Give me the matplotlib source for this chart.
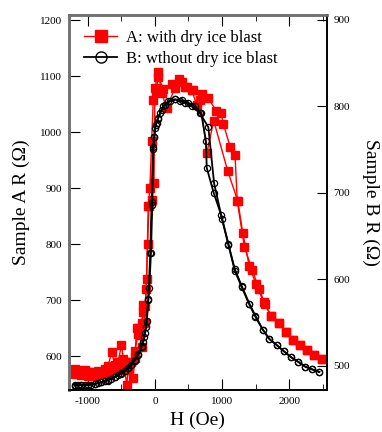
import matplotlib
matplotlib.use("Agg")
import matplotlib.pyplot as plt
from matplotlib.ticker import MultipleLocator

plt.rcParams['font.family'] = ['Liberation Serif', 'DejaVu Serif']
plt.rcParams['axes.unicode_minus'] = False

# sample A, field sweeping up then down (left axis)
h_a_up = [-1200, -1150, -1100, -1050, -1000, -950, -900, -850, -800, -750, -700, -645, -600, -550,
          -500, -470, -422, -400, -350, -325, -300, -273, -250, -225, -200, -175, -150, -125, -100,
          -75, -50, -25, 15, 50, 125, 250, 365, 450, 550, 620, 672, 776, 876, 1085, 1234, 1309,
          1407, 1507, 1622, 1731, 1855, 1955, 2055, 2168, 2268, 2378, 2488]
r_a_up = [577, 575, 574, 576, 573, 572, 570, 574, 571, 578, 583, 608, 585, 590,
          620, 596, 549, 575, 590, 561, 598, 651, 650, 638, 617, 692, 660, 739, 868,
          900, 985, 1058, 1072, 1098, 1078, 1087, 1095, 1081, 1076, 1049, 1058, 964, 1021, 931, 878, 821,
          761, 729, 697, 673, 659, 643, 630, 621, 611, 603, 596]
h_a_down = [2488, 2378, 2268, 2168, 2055, 1955, 1855, 1731, 1640, 1557, 1448, 1333, 1228, 1194,
            1124, 1020, 985, 910, 796, 697, 572, 473, 400, 300, 175, 100, 50, 0, -15, -50, -90,
            -110, -130, -150, -175, -200, -250, -300, -350, -400, -450, -500, -600, -700, -800,
            -900, -1000, -1100, -1200]
r_a_down = [596, 603, 611, 621, 630, 643, 659, 673, 693, 720, 755, 796, 877, 959,
            973, 1015, 1034, 1039, 1061, 1068, 1076, 1081, 1090, 1080, 1043, 1070, 1108, 1080, 910, 880, 868,
            800, 720, 690, 680, 660, 640, 610, 590, 585, 580, 576, 578, 572, 568,
            566, 566, 567, 568]

# sample B (right axis)
h_b_up = [-1200, -1150, -1100, -1050, -1000, -950, -900, -850, -800, -750, -700, -650, -600, -550,
          -500, -450, -400, -350, -300, -250, -200, -175, -150, -125, -100, -85, -60, -40, -25, -10,
          0, 25, 50, 100, 150, 225, 300, 375, 450, 550, 672, 796, 882, 1000, 1095, 1190, 1295, 1407,
          1497, 1607, 1707, 1817, 1921, 2030, 2130, 2243, 2343, 2452]
r_b_up = [478, 478, 478, 478, 478, 478, 479, 480, 481, 482, 483, 485, 487, 489,
          491, 494, 497, 501, 506, 513, 522, 528, 538, 552, 576, 590, 630, 686, 753, 765,
          775, 781, 787, 796, 802, 806, 808, 806, 804, 800, 792, 776, 711, 670, 640, 612, 592, 572,
          558, 542, 531, 524, 517, 510, 505, 499, 496, 493]
h_b_down = [2452, 2343, 2243, 2130, 2030, 1921, 1817, 1707, 1607, 1497, 1407, 1295, 1190, 1095,
            985, 876, 772, 760, 690, 600, 500, 400, 300, 200, 125, 75, 40, 10, -10, -30, -50, -70,
            -100, -130, -160, -200, -250, -300, -400, -500, -600, -700, -800, -900, -1000, -1100,
            -1150, -1200]
r_b_down = [493, 496, 499, 505, 510, 517, 524, 531, 542, 557, 571, 591, 610, 641,
            675, 700, 729, 760, 792, 800, 804, 807, 808, 806, 800, 792, 785, 778, 765, 751, 690, 630,
            577, 545, 533, 523, 514, 507, 498, 492, 487, 484, 481, 479, 478, 478,
            477, 477]

fig = plt.figure(figsize=(3.82, 4.32), dpi=100)
ax = fig.add_axes([0.181, 0.097, 0.674, 0.869])
ax2 = ax.twinx()

ax.plot(h_a_up, r_a_up, color="red", lw=1.0, marker="s", ms=5.2, mec="red", mfc="red",
        label="A: with dry ice blast")
ax.plot(h_a_down, r_a_down, color="red", lw=1.0, marker="s", ms=5.2, mec="red", mfc="red")
ax2.plot(h_b_up, r_b_up, color="black", lw=1.3, marker="o", ms=4.5, mec="black", mfc="none",
         mew=0.9)
ax2.plot(h_b_down, r_b_down, color="black", lw=1.3, marker="o", ms=4.5, mec="black", mfc="none",
         mew=0.9)

ax.set_xlim(-1280, 2560)
ax.set_ylim(540, 1210)
ax2.set_ylim(472, 906)

ax.xaxis.set_major_locator(MultipleLocator(1000))
ax.xaxis.set_minor_locator(MultipleLocator(500))
ax.yaxis.set_major_locator(MultipleLocator(100))
ax2.yaxis.set_major_locator(MultipleLocator(100))

ax.tick_params(axis="x", which="both", direction="in", top=True, labelsize=8, pad=5)
ax.tick_params(axis="x", which="major", length=8)
ax.tick_params(axis="x", which="minor", length=4)
ax.tick_params(axis="y", direction="in", length=8, labelsize=8, pad=5)
ax2.tick_params(axis="y", direction="in", length=7, labelsize=8, pad=5)

for a in (ax, ax2):
    a.spines["left"].set_color("#707070")
    a.spines["top"].set_color("#707070")
    a.spines["left"].set_linewidth(1.8)
    a.spines["top"].set_linewidth(1.8)
    a.spines["bottom"].set_linewidth(1.2)
    a.spines["right"].set_linewidth(1.2)

ax.set_xlabel("H (Oe)", fontsize=14, labelpad=4)
ax.set_ylabel("Sample A R (Ω)", fontsize=14, labelpad=7)
ax2.set_ylabel("Sample B R (Ω)", fontsize=14, rotation=270, labelpad=21)

hb, = ax.plot([], [], color="black", lw=1.3, marker="o", ms=7, mec="black", mfc="none",
              label="B: wthout dry ice blast")
leg = ax.legend(loc="upper left", frameon=False, fontsize=12, handlelength=2.0,
                borderaxespad=0.5, labelspacing=0.3, handletextpad=0.5)
for h in leg.legend_handles:
    h.set_markersize(8)

fig.savefig("out.png", dpi=100)
